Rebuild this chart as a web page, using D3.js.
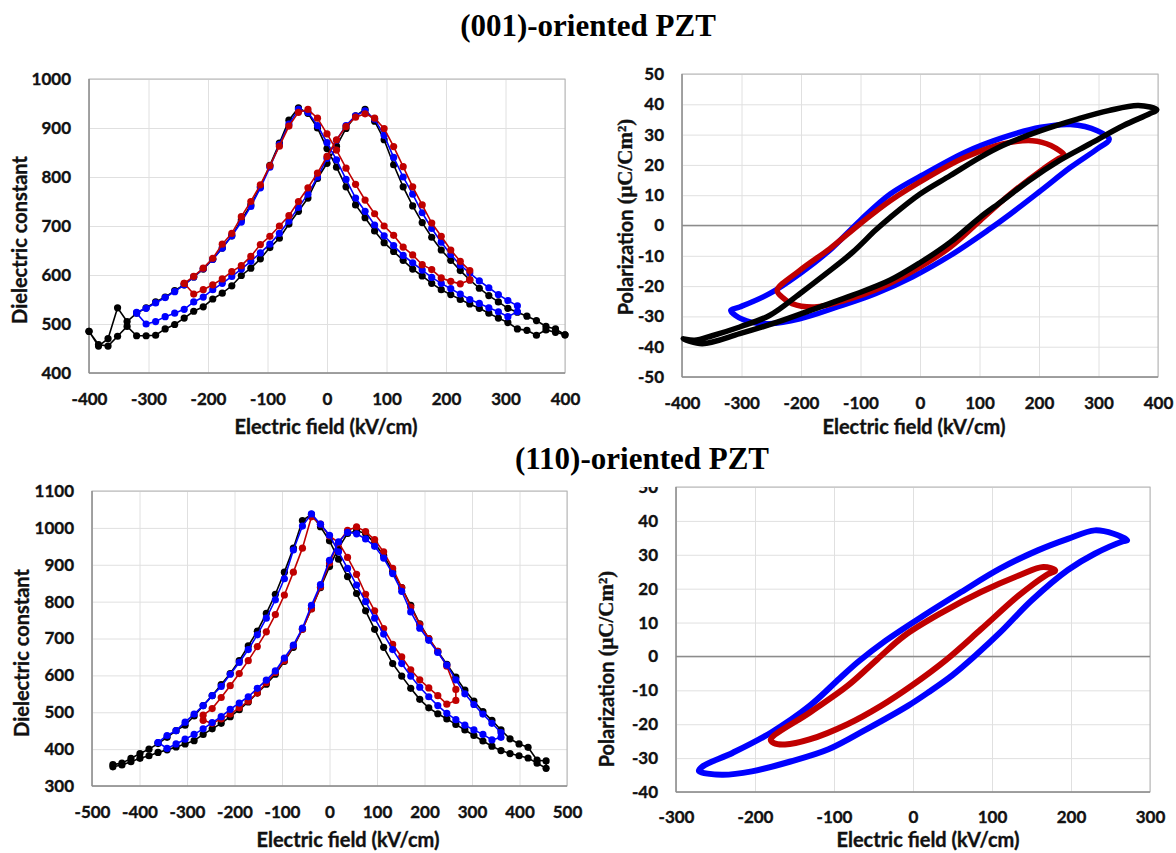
<!DOCTYPE html>
<html><head><meta charset="utf-8">
<script src="https://cdn.jsdelivr.net/npm/d3@7"></script>
<style>body{margin:0;background:#fff} svg{display:block}</style>
</head><body>
<svg id="c" width="1176" height="853"></svg>
<script>
// ---------------- DATA ----------------
// Electric field steps (kV/cm)
const FIELD_001 = [-400,-384,-368,-352,-336,-320,-304,-288,-272,-256,-240,-224,-208,-192,-176,-160,-144,-128,-112,-96,-80,-64,-48,-32,-16,0,16,32,48,64,80,96,112,128,144,160,176,192,208,224,240,256,272,288,304,320,336,352,368,384,400];
const FIELD_110 = [-456,-437,-418,-399,-380,-361,-342,-323,-304,-285,-266,-247,-228,-209,-190,-171,-152,-133,-114,-95,-76,-57,-38,-19,0,19,38,57,76,95,114,133,152,171,190,209,228,247,266,285,304,323,342,361,380,399,418,437,456];

// (001) dielectric constant; "up" = increasing-field sweep, "down" = decreasing-field sweep (both listed by ascending field)
const eps001_black_up   = [485,458,455,475,495,476,476,477,490,499,512,526,535,551,563,578,599,614,633,656,675,704,730,757,797,828,863,899,925,938,914,876,825,780,741,707,677,651,630,609,590,573,558,545,532,524,516,507,495,490,478];
const eps001_black_down = [485,455,470,533,505,522,533,545,555,568,580,596,612,632,655,680,712,743,780,824,869,916,941,930,900,858,820,780,743,717,690,666,648,630,612,598,583,570,560,550,541,532,522,512,503,490,487,477,488,483,478];
const eps001_blue_up    = [522,500,505,515,522,530,545,555,570,583,597,612,628,645,663,685,710,738,765,800,838,875,905,925,935,918,885,840,800,765,727,695,667,642,620,604,588,574,560,548,537];
const eps001_blue_down  = [524,532,543,554,566,580,596,613,632,655,680,708,740,778,820,866,908,938,932,905,870,835,795,757,730,702,680,660,640,625,610,595,583,572,561,550,542,533,525,515,525];
const eps001_red_up     = [583,561,570,580,592,607,619,638,662,679,700,721,750,778,808,842,876,903,922,929,920,899,862,821,780,743,706,679,651,628,609];
const eps001_red_down   = [583,597,614,634,663,685,719,750,784,823,863,904,932,938,920,888,855,818,785,753,725,700,681,657,641,621,611,594,587,582,590];

// (110) dielectric constant
const eps110_black_up   = [352,357,366,375,382,391,398,406,414,423,440,455,470,488,507,528,552,576,603,638,676,725,781,838,895,945,985,992,985,958,925,882,838,790,740,700,665,630,595,560,530,502,478,452,428,414,405,370,368];
const eps110_black_down = [358,362,375,388,400,415,432,450,465,490,518,545,575,605,640,680,720,768,820,880,945,1020,1037,1003,965,915,868,822,775,725,676,632,598,565,535,512,496,482,467,452,437,422,408,396,388,382,376,362,348];
const eps110_blue_up    = [418,402,414,427,440,455,472,488,508,525,542,565,587,612,647,682,728,790,846,912,962,988,984,970,950,918,876,828,772,728,695,662,628,588,550,521,495,470,445];
const eps110_blue_down  = [418,437,450,473,495,518,545,570,603,635,670,710,755,805,862,940,1005,1038,1010,980,935,890,845,800,755,712,670,632,598,568,542,518,497,480,465,452,440,425,432];
const eps110_red_up     = [478,470,482,495,512,530,552,580,608,640,680,725,780,840,905,960,993,1003,990,968,935,890,838,785,738,700,665,625,562];
const eps110_red_down   = [492,510,540,572,605,640,678,718,765,818,880,945,1030,1010,978,960,920,874,820,775,727,684,650,615,588,566,545,522,532];

// (001) P-E loops: [field, polarization]; upper branch (decreasing field) then lower branch (increasing field)
const pe001_black_upper = [[398,38.2],[367,39.6],[317,37.9],[266,35.2],[203,31.3],[139,26.4],[101,22.5],[51,16.5],[0,10.4],[-50,2.7],[-75,-1.6],[-113,-8.8],[-158,-15.9],[-202,-22.5],[-253,-29.7],[-303,-33.5],[-348,-36.3],[-379,-37.9],[-398,-37.4]];
const pe001_black_lower = [[-366,-39],[-303,-35.7],[-240,-31.9],[-177,-27.5],[-113,-23],[-50,-18],[0,-12.3],[51,-5.5],[101,2.7],[139,8.2],[183,14.8],[234,21.4],[285,26.9],[342,33],[385,36.8]];
const pe001_blue_upper  = [[318,28.5],[298,31.3],[253,33.3],[203,32.4],[139,29],[76,24.2],[13,17.6],[-50,10.4],[-101,1.6],[-152,-8.2],[-202,-15.9],[-253,-22.5],[-303,-26.9],[-318,-28]];
const pe001_blue_lower  = [[-310,-29.7],[-284,-31.9],[-253,-32.4],[-202,-30.8],[-139,-26.9],[-75,-22.5],[-13,-17],[51,-9.9],[114,-1.6],[152,3.8],[203,11.5],[253,19.2],[298,25.3]];
const pe001_red_upper   = [[243,23],[220,26.4],[189,28],[139,26.9],[76,22.5],[13,15.9],[-50,8.2],[-101,0.5],[-152,-7.7],[-202,-14.8],[-240,-21.4]];
const pe001_red_lower   = [[-232,-23.6],[-215,-25.8],[-177,-26.9],[-126,-24.7],[-63,-20.3],[0,-13.7],[51,-7.1],[101,1.6],[152,10.4],[203,18.1],[234,22.2]];

// (110) P-E loops
const pe110_blue_upper = [[271,34.3],[254,36.2],[230,37.2],[196,34.7],[158,31.3],[110,25.9],[61,19],[13,12],[-35,4.6],[-69,-1.5],[-93,-6.5],[-131,-14.6],[-180,-22.5],[-228,-28.4],[-266,-32.4]];
const pe110_blue_lower = [[-271,-33.8],[-242,-34.9],[-204,-33.9],[-155,-31],[-107,-27.4],[-59,-21.5],[-6,-14.5],[20,-10.5],[50,-5.5],[80,0.5],[110,7],[150,16.5],[196,25.5],[230,30.3],[266,34]];
const pe110_red_upper  = [[180,25.4],[165,26.4],[134,23.9],[86,19],[37,13],[-11,6.1],[-45,-0.8],[-83,-8.7],[-131,-16.6],[-180,-24.5]];
const pe110_red_lower  = [[-176,-25.6],[-162,-26],[-131,-24.5],[-83,-20],[-40,-14.5],[-1,-8.5],[42,-1],[86,8],[134,18],[168,23.9]];

// Axis ticks
const ticksX_001 = [-400,-300,-200,-100,0,100,200,300,400];
const ticksY_eps001 = [400,500,600,700,800,900,1000];
const ticksY_pe001 = [-50,-40,-30,-20,-10,0,10,20,30,40,50];
const ticksX_eps110 = [-500,-400,-300,-200,-100,0,100,200,300,400,500];
const ticksY_eps110 = [300,400,500,600,700,800,900,1000,1100];
const ticksX_pe110 = [-300,-200,-100,0,100,200,300];
const ticksY_pe110 = [-40,-30,-20,-10,0,10,20,30,40,50];

const titleTop = "(001)-oriented PZT";
const titleBottom = "(110)-oriented PZT";
const xTitle = "Electric field (kV/cm)";
const epsTitle = "Dielectric constant";

// ---------------- DRAWING ----------------
const COL = {black:"#000000", blue:"#0000ff", red:"#c00000"};
const SANS = "Lato, 'Open Sans', 'Liberation Sans', sans-serif";
const SERIF = "'Liberation Serif', 'Times New Roman', serif";
const svg = d3.select("#c");
const fmt = d => String(d);   // plain hyphen-minus like the original

function styleText(sel, size) {
  sel.attr("font-family", SANS).attr("font-weight", 700).attr("font-size", size)
     .attr("fill", "#111").attr("stroke", "#111").attr("stroke-width", 0.35);
}

function frame(p) {
  const g = svg.append("g");
  const x = d3.scaleLinear().domain(p.xd).range([p.l, p.r]);
  const y = d3.scaleLinear().domain(p.yd).range([p.b, p.t]);
  const H = p.b - p.t, W = p.r - p.l;
  // gridlines
  g.append("g").attr("transform", `translate(0,${p.b})`)
    .call(d3.axisBottom(x).tickValues(p.xt).tickSize(-H).tickFormat(""))
    .call(a => { a.select(".domain").remove(); a.selectAll("line").attr("stroke", "#e0e0e0").attr("stroke-width", 1); });
  g.append("g").attr("transform", `translate(${p.l},0)`)
    .call(d3.axisLeft(y).tickValues(p.yt).tickSize(-W).tickFormat(""))
    .call(a => { a.select(".domain").remove(); a.selectAll("line").attr("stroke", "#e0e0e0").attr("stroke-width", 1); });
  g.append("rect").attr("x", p.l).attr("y", p.t).attr("width", W).attr("height", H)
    .attr("fill", "none").attr("stroke", "#b4b4b4").attr("stroke-width", 1);
  if (p.zero) {
    g.append("line").attr("x1", p.l).attr("x2", p.r).attr("y1", y(0)).attr("y2", y(0))
      .attr("stroke", "#8c8c8c").attr("stroke-width", 1.4);
  }
  g.append("line").attr("x1", p.l).attr("x2", p.l).attr("y1", p.t).attr("y2", p.b).attr("stroke", "#8c8c8c").attr("stroke-width", 1.4);
  g.append("line").attr("x1", p.l).attr("x2", p.r).attr("y1", p.b).attr("y2", p.b).attr("stroke", "#8c8c8c").attr("stroke-width", 1.4);
  // tick labels
  g.append("g").attr("transform", `translate(0,${p.b})`)
    .call(d3.axisBottom(x).tickValues(p.xt).tickSize(0).tickPadding(p.xpad).tickFormat(fmt))
    .call(a => { a.select(".domain").remove(); styleText(a.selectAll("text"), 17); });
  const yl = g.append("g").attr("transform", `translate(${p.l},0)`)
    .call(d3.axisLeft(y).tickValues(p.yt).tickSize(0).tickPadding(18).tickFormat(fmt))
    .call(a => { a.select(".domain").remove(); styleText(a.selectAll("text"), 17); });
  if (p.clipTop != null) {
    const id = "clip" + Math.round(p.l);
    yl.append("clipPath").attr("id", id).append("rect")
      .attr("x", -120).attr("y", p.clipTop).attr("width", 130).attr("height", 400);
    yl.attr("clip-path", `url(#${id})`);
  }
  // x title
  styleText(g.append("text").attr("x", p.xtx).attr("y", p.xty).attr("text-anchor", "middle").text(xTitle), 20);
  return {g, x, y};
}

function epsTitleAt(cx, cy) {
  styleText(svg.append("text").attr("transform", `translate(${cx},${cy}) rotate(-90)`).attr("text-anchor", "middle")
    .attr("dominant-baseline", "central").text(epsTitle), 20);
}
function polTitleAt(cx, cy) {
  const t = svg.append("text").attr("transform", `translate(${cx},${cy}) rotate(-90)`).attr("text-anchor", "middle")
    .attr("dominant-baseline", "central").attr("font-weight", 700).attr("fill", "#111")
    .attr("stroke", "#111").attr("stroke-width", 0.35);
  t.append("tspan").attr("font-family", SANS).attr("font-size", 20).text("Polarization ");
  t.append("tspan").attr("font-family", SERIF).attr("font-size", 21).text("(\u03bcC/Cm\u00b2)");
}

function epsLoop(ax, field, up, down, color) {
  const n = up.length;
  const off = (field.length - n) / 2;
  const f = field.slice(off, off + n);
  const upPts = f.map((e, i) => [e, up[i]]);
  const dnPts = f.map((e, i) => [e, down[i]]).reverse();
  const pts = upPts.concat(dnPts);
  const line = d3.line().x(d => ax.x(d[0])).y(d => ax.y(d[1]));
  ax.g.append("path").attr("d", line(pts)).attr("fill", "none").attr("stroke", color).attr("stroke-width", 1.6);
  ax.g.append("g").selectAll("circle").data(pts).join("circle")
    .attr("cx", d => ax.x(d[0])).attr("cy", d => ax.y(d[1])).attr("r", 3.6).attr("fill", color);
}

function peLoop(ax, upper, lower, color, w) {
  const pts = upper.concat(lower);
  const line = d3.line().x(d => ax.x(d[0])).y(d => ax.y(d[1])).curve(d3.curveCatmullRomClosed.alpha(0.5));
  ax.g.append("path").attr("d", line(pts)).attr("fill", "none").attr("stroke", color)
    .attr("stroke-width", w).attr("stroke-linejoin", "round");
}

// Titles
svg.append("text").attr("x", 588).attr("y", 36).attr("text-anchor", "middle")
  .attr("font-family", SERIF).attr("font-weight", 700).attr("font-size", 31).attr("fill", "#000").text(titleTop);
svg.append("text").attr("x", 642).attr("y", 469).attr("text-anchor", "middle")
  .attr("font-family", SERIF).attr("font-weight", 700).attr("font-size", 31).attr("fill", "#000").text(titleBottom);

// Panel 1: (001) dielectric
const a1 = frame({xd:[-400,400], yd:[400,1000], l:89, r:565, t:79, b:373, xt:ticksX_001, yt:ticksY_eps001, xpad:20, xtx:326, xty:434});
epsTitleAt(19, 240);
epsLoop(a1, FIELD_001, eps001_black_up, eps001_black_down, COL.black);
epsLoop(a1, FIELD_001, eps001_blue_up, eps001_blue_down, COL.blue);
epsLoop(a1, FIELD_001, eps001_red_up, eps001_red_down, COL.red);

// Panel 2: (001) P-E
const a2 = frame({xd:[-400,400], yd:[-50,50], l:682, r:1158, t:74, b:377, xt:ticksX_001, yt:ticksY_pe001, xpad:20, xtx:914, xty:434, zero:true});
polTitleAt(625, 217);
peLoop(a2, pe001_blue_upper, pe001_blue_lower, COL.blue, 5.5);
peLoop(a2, pe001_red_upper, pe001_red_lower, COL.red, 5.5);
peLoop(a2, pe001_black_upper, pe001_black_lower, COL.black, 5.5);

// Panel 3: (110) dielectric
const a3 = frame({xd:[-500,500], yd:[300,1100], l:92, r:567, t:491, b:786, xt:ticksX_eps110, yt:ticksY_eps110, xpad:20, xtx:348, xty:847});
epsTitleAt(21, 653);
epsLoop(a3, FIELD_110, eps110_black_up, eps110_black_down, COL.black);
epsLoop(a3, FIELD_110, eps110_red_up, eps110_red_down, COL.red);
epsLoop(a3, FIELD_110, eps110_blue_up, eps110_blue_down, COL.blue);

// Panel 4: (110) P-E
const a4 = frame({xd:[-300,300], yd:[-40,50], l:676, r:1150, t:487, b:792, xt:ticksX_pe110, yt:ticksY_pe110, xpad:19, xtx:928, xty:847, zero:true, clipTop:487});
polTitleAt(606, 669);
peLoop(a4, pe110_blue_upper, pe110_blue_lower, COL.blue, 6);
peLoop(a4, pe110_red_upper, pe110_red_lower, COL.red, 6);
</script>
</body></html>
